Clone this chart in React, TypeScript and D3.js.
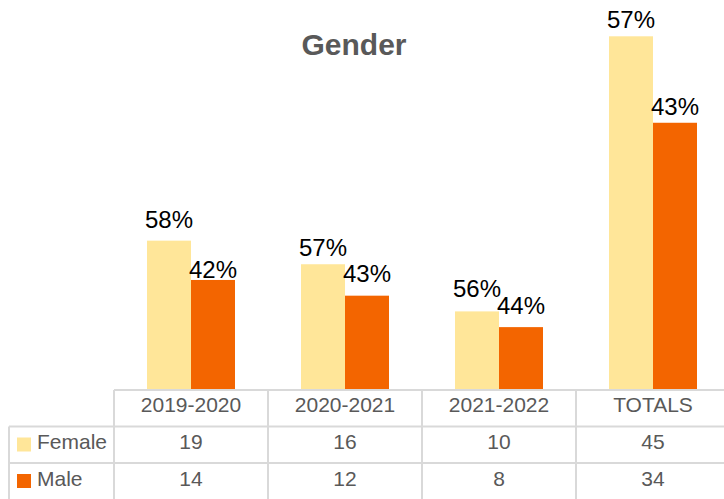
import React from "react";
import * as d3 from "d3";

const categories = ["2019-2020", "2020-2021", "2021-2022", "TOTALS"];
const seriesNames = ["Female", "Male"];
const femaleValues = [19, 16, 10, 45];
const maleValues = [14, 12, 8, 34];
const title = "Gender";

const colors = ["#FFE699", "#F36500"];
// label gaps above bars (px), per series, per category
const labelGaps = [
  [13, 8, 14, 8],
  [2, 14, 13, 8],
];

const W = 724;
const H = 499;
const FONT = "'Liberation Sans', Arial, sans-serif";
const GRID = "#D9D9D9";
const TXT = "#595959";

export default function App() {
  const series = [femaleValues, maleValues];
  const tableLeft = 114;
  const labelLeft = 9;
  const tableRight = 730;
  const baseY = 390;
  const rowH = 36.5;

  const x = d3.scaleBand<string>().domain(categories).range([tableLeft, tableRight]).paddingInner(0).paddingOuter(0);
  const xs = d3
    .scaleBand<string>()
    .domain(seriesNames)
    .range([0, x.bandwidth()])
    .paddingInner(0)
    .paddingOuter(0.75);
  const y = d3.scaleLinear().domain([0, 50]).range([baseY, baseY - 50 * 7.86]);

  const totals = categories.map((_, i) => femaleValues[i] + maleValues[i]);
  const pct = (v: number, i: number) => `${Math.round((v / totals[i]) * 100)}%`;

  const rowTops = [baseY, baseY + rowH, baseY + 2 * rowH, baseY + 3 * rowH + 2];

  return (
    <svg
      width={W}
      height={H}
      style={{ position: "absolute", left: 0, top: 0, background: "#fff" }}
      fontFamily={FONT}
    >
      <rect x={0} y={0} width={W} height={H} fill="#fff" />
      <text x={354} y={55} textAnchor="middle" fontSize={30} fontWeight="bold" fill={TXT}>
        {title}
      </text>

      {/* bars */}
      {series.map((vals, s) =>
        vals.map((v, i) => (
          <rect
            key={`b${s}-${i}`}
            x={(x(categories[i]) as number) + (xs(seriesNames[s]) as number)}
            y={y(v)}
            width={xs.bandwidth()}
            height={baseY - y(v)}
            fill={colors[s]}
          />
        ))
      )}

      {/* percentage labels */}
      {series.map((vals, s) =>
        vals.map((v, i) => (
          <text
            key={`l${s}-${i}`}
            x={(x(categories[i]) as number) + (xs(seriesNames[s]) as number) + xs.bandwidth() / 2}
            y={y(v) - labelGaps[s][i]}
            textAnchor="middle"
            fontSize={24}
            fill="#000"
          >
            {pct(v, i)}
          </text>
        ))
      )}

      {/* table grid */}
      <g stroke={GRID} strokeWidth={2} fill="none">
        <line x1={tableLeft} x2={W} y1={rowTops[0]} y2={rowTops[0]} />
        <line x1={labelLeft} x2={W} y1={rowTops[1]} y2={rowTops[1]} />
        <line x1={labelLeft} x2={W} y1={rowTops[2]} y2={rowTops[2]} />
        <line x1={labelLeft} x2={labelLeft} y1={rowTops[1]} y2={H} />
        {categories.map((c) => (
          <line key={`v${c}`} x1={x(c)} x2={x(c)} y1={rowTops[0]} y2={H} />
        ))}
      </g>

      {/* header */}
      {categories.map((c) => (
        <text
          key={`h${c}`}
          x={(x(c) as number) + x.bandwidth() / 2}
          y={412}
          textAnchor="middle"
          fontSize={21}
          fill={TXT}
        >
          {c}
        </text>
      ))}

      {/* rows */}
      {series.map((vals, s) => (
        <g key={`r${s}`}>
          <rect x={17} y={rowTops[s + 1] + 11} width={14} height={14} fill={colors[s]} />
          <text x={37} y={rowTops[s + 1] + 22.5} fontSize={21} fill={TXT}>
            {seriesNames[s]}
          </text>
          {vals.map((v, i) => (
            <text
              key={`c${s}-${i}`}
              x={(x(categories[i]) as number) + x.bandwidth() / 2}
              y={rowTops[s + 1] + 22.5}
              textAnchor="middle"
              fontSize={21}
              fill={TXT}
            >
              {v}
            </text>
          ))}
        </g>
      ))}
    </svg>
  );
}
